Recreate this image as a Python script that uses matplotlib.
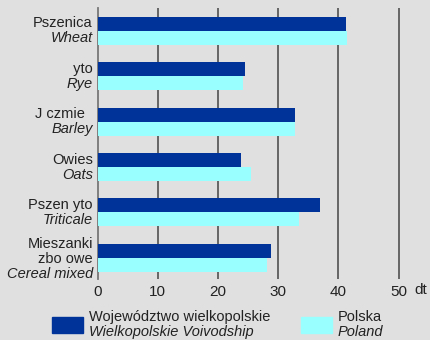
import matplotlib.pyplot as plt
from matplotlib.patches import Rectangle
import numpy as np

# plony zbóż w dt z ha
zboza_pl = ['Pszenica', ' yto', 'J czmie  ', 'Owies', 'Pszen yto', 'Mieszanki\nzbo owe']
zboza_en = ['Wheat', 'Rye', 'Barley', 'Oats', 'Triticale', 'Cereal mixed']
wielkopolska = [41.3, 24.5, 32.8, 23.8, 36.9, 28.8]
polska = [41.4, 24.1, 32.8, 25.5, 33.5, 28.2]
skala = [0, 10, 20, 30, 40, 50]

kolor_wlkp = '#003399'
kolor_pl = '#99ffff'
tlo = '#e0e0e0'

plt.rcParams['font.family'] = ['Liberation Sans', 'DejaVu Sans']

fig = plt.figure(figsize=(4.3, 3.4), dpi=100, facecolor=tlo)
ax = fig.add_axes([0.227, 0.179, 0.714, 0.797], facecolor=tlo)

y = np.arange(len(zboza_pl))
h = 0.31
ax.barh(y - h / 2, wielkopolska, height=h, color=kolor_wlkp, zorder=3)
ax.barh(y + h / 2, polska, height=h, color=kolor_pl, zorder=3)

for v in skala[1:]:
    ax.axvline(v, color='#444444', lw=1.1, zorder=1)

ax.set_xlim(0, 51)
ax.set_ylim(5.47, -0.5)
ax.set_xticks(skala)
ax.set_xticklabels([str(s) for s in skala], fontsize=11, color='#222222')
ax.tick_params(axis='x', length=0, pad=4)
ax.set_yticks([])
for s in ['top', 'right', 'bottom']:
    ax.spines[s].set_visible(False)
ax.spines['left'].set_color('#777777')
ax.spines['left'].set_linewidth(1.3)
ax.text(421 / 430, 1 - 290 / 340, 'dt', transform=fig.transFigure, ha='center', va='center',
        fontsize=11, color='#222222')

# podpisy kategorii: polska nazwa prosto, angielska kursywą
krok = 0.33
for i in range(len(zboza_pl)):
    linie = zboza_pl[i].split('\n')
    n = len(linie) + 1
    start = i - krok * (n - 1) / 2 + (0.02 if n > 2 else 0)
    for j, t in enumerate(linie):
        ax.text(-0.8, start + j * krok, t, ha='right', va='center', fontsize=10.5, color='#222222')
    ax.text(-0.8, start + (n - 1) * krok, zboza_en[i], ha='right', va='center', fontsize=10.5,
            style='italic', color='#222222')

# legenda
fig.patches.append(Rectangle((52 / 430, 1 - 333 / 340), 31 / 430, 16 / 340,
                             transform=fig.transFigure, color=kolor_wlkp))
fig.patches.append(Rectangle((301 / 430, 1 - 333 / 340), 31 / 430, 16 / 340,
                             transform=fig.transFigure, color=kolor_pl))
fig.text(89 / 430, 1 - 317 / 340, 'Województwo wielkopolskie', va='center', fontsize=10.5, color='#222222')
fig.text(89 / 430, 1 - 332 / 340, 'Wielkopolskie Voivodship', va='center', fontsize=10.5,
         style='italic', color='#222222')
fig.text(338 / 430, 1 - 317 / 340, 'Polska', va='center', fontsize=10.5, color='#222222')
fig.text(338 / 430, 1 - 332 / 340, 'Poland', va='center', fontsize=10.5, style='italic', color='#222222')

fig.savefig('out.png', dpi=100, facecolor=tlo)
